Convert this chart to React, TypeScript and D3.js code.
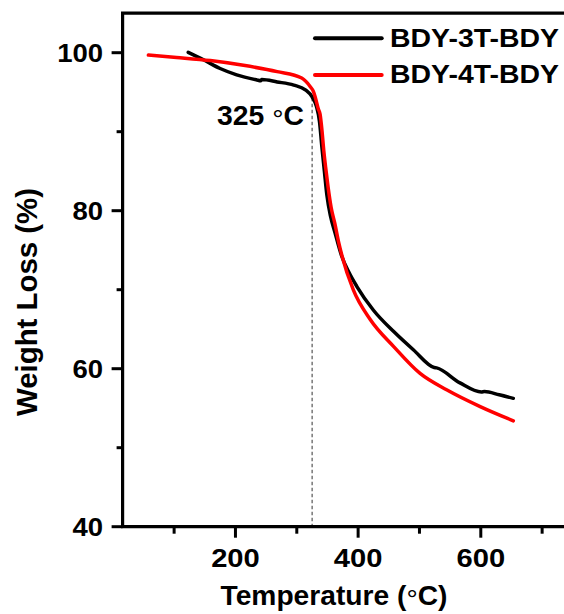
import React from "react";
import * as d3 from "d3";

const seriesNames = ["BDY-3T-BDY", "BDY-4T-BDY"];
const seriesColors = ["#000000", "#ff0000"];

const bdy3t: [number, number][] = [
  [123, 100.05], [148, 99.1], [175, 98.0], [202, 97.2], [235, 96.55], [241, 96.45],
  [243, 96.6], [268, 96.3], [295, 95.9], [314, 95.3], [325, 94.4], [332, 93.2],
  [337, 91.3], [341, 88.0], [345, 85.0], [349, 82.0], [355, 79.3], [362, 77.3],
  [373, 74.3], [385, 72.2], [398, 70.4], [425, 67.4], [458, 64.7], [490, 62.4],
  [524, 60.15], [528, 60.1], [566, 58.2], [601, 57.05], [606, 57.1], [630, 56.7],
  [653, 56.25],
];

const bdy4t: [number, number][] = [
  [58, 99.7], [104, 99.4], [159, 99.0], [213, 98.4], [268, 97.6], [308, 96.8],
  [322, 95.7], [327, 95.1], [330, 94.4], [335, 92.9], [338, 92.2], [341, 90.2],
  [344, 87.6], [347, 85.5], [351, 83.0], [356, 80.4], [362, 78.4], [368, 76.1],
  [374, 74.2], [392, 70.0], [420, 66.2], [458, 62.8], [501, 59.4], [545, 57.3],
  [599, 55.2], [653, 53.4],
];

const xMajorTicks = [200, 400, 600];
const xMinorTicks = [100, 300, 500, 700];
const yMajorTicks = [40, 60, 80, 100];
const yMinorTicks = [50, 70, 90];
const onsetTemp = 325;
const onsetLabel = "325 ";

const FONT = "'Liberation Sans', Arial, sans-serif";

export default function App() {
  const x = d3.scaleLinear().domain([16, 750]).range([122.6, 572.8]);
  const y = d3.scaleLinear().domain([40, 105]).range([526.7, 13.2]);
  const line = d3
    .line<[number, number]>()
    .x((d) => x(d[0]))
    .y((d) => y(d[1]))
    .curve(d3.curveMonotoneX);

  const x0 = x.range()[0];
  const y0 = y.range()[0];
  const yTop = y.range()[1];
  const xRight = x.range()[1];

  return (
    <svg
      width={564}
      height={614}
      style={{ position: "fixed", left: 0, top: 0, background: "#fff" }}
      fontFamily={FONT}
      fontWeight="bold"
    >
      <rect x={0} y={0} width={564} height={614} fill="#fff" />
      {/* dashed onset line */}
      <line
        x1={x(onsetTemp)}
        x2={x(onsetTemp)}
        y1={y(94.3)}
        y2={y0}
        stroke="#555"
        strokeWidth={1.2}
        strokeDasharray="3.5,2.5"
      />
      {/* curves */}
      <path d={line(bdy3t) || ""} fill="none" stroke={seriesColors[0]} strokeWidth={3.5} strokeLinejoin="round" strokeLinecap="round" />
      <path d={line(bdy4t) || ""} fill="none" stroke={seriesColors[1]} strokeWidth={3.5} strokeLinejoin="round" strokeLinecap="round" />

      {/* frame */}
      <path
        d={`M${x0},${y0}H${xRight}V${yTop}H${x0}Z`}
        fill="none"
        stroke="#000"
        strokeWidth={3.2}
      />
      {/* y ticks */}
      {yMajorTicks.map((t) => (
        <g key={"ym" + t}>
          <line x1={x0 - 11} x2={x0} y1={y(t)} y2={y(t)} stroke="#000" strokeWidth={3} />
          <text
            transform={`translate(103,${y(t) + 9}) scale(1.1,1)`}
            textAnchor="end"
            fontSize={25}
          >
            {t}
          </text>
        </g>
      ))}
      {yMinorTicks.map((t) => (
        <line key={"yn" + t} x1={x0 - 6} x2={x0} y1={y(t)} y2={y(t)} stroke="#000" strokeWidth={3} />
      ))}
      {/* x ticks */}
      {xMajorTicks.map((t) => (
        <g key={"xm" + t}>
          <line x1={x(t)} x2={x(t)} y1={y0} y2={y0 + 11} stroke="#000" strokeWidth={3} />
          <text
            transform={`translate(${x(t)},566.7) scale(1.1,1)`}
            textAnchor="middle"
            fontSize={26.5}
          >
            {t}
          </text>
        </g>
      ))}
      {xMinorTicks.map((t) => (
        <line key={"xn" + t} x1={x(t)} x2={x(t)} y1={y0} y2={y0 + 7} stroke="#000" strokeWidth={3} />
      ))}

      {/* axis titles */}
      <text x={220.5} y={605} fontSize={27} textLength={227} lengthAdjust="spacingAndGlyphs">
        Temperature (<tspan fontWeight="normal" dy={4}>°</tspan><tspan dy={-4}>C)</tspan>
      </text>
      <text
        transform="translate(37,302) scale(1.15,1) rotate(-90)"
        textAnchor="middle"
        fontSize={26}
        textLength={228}
        lengthAdjust="spacingAndGlyphs"
      >
        Weight Loss (%)
      </text>

      {/* onset label */}
      <text x={217} y={125} fontSize={27} textLength={87} lengthAdjust="spacingAndGlyphs">
        {onsetLabel}
        <tspan fontWeight="normal" dy={4}>°</tspan>
        <tspan dy={-4}>C</tspan>
      </text>

      {/* legend */}
      {seriesNames.map((name, i) => (
        <g key={name}>
          <line
            x1={315}
            x2={381.7}
            y1={38.3 + i * 36.7}
            y2={38.3 + i * 36.7}
            stroke={seriesColors[i]}
            strokeWidth={4}
            strokeLinecap="round"
          />
          <text
            x={390}
            y={46.7 + i * 36.7}
            fontSize={25.5}
            textLength={169}
            lengthAdjust="spacingAndGlyphs"
          >
            {name}
          </text>
        </g>
      ))}
    </svg>
  );
}
